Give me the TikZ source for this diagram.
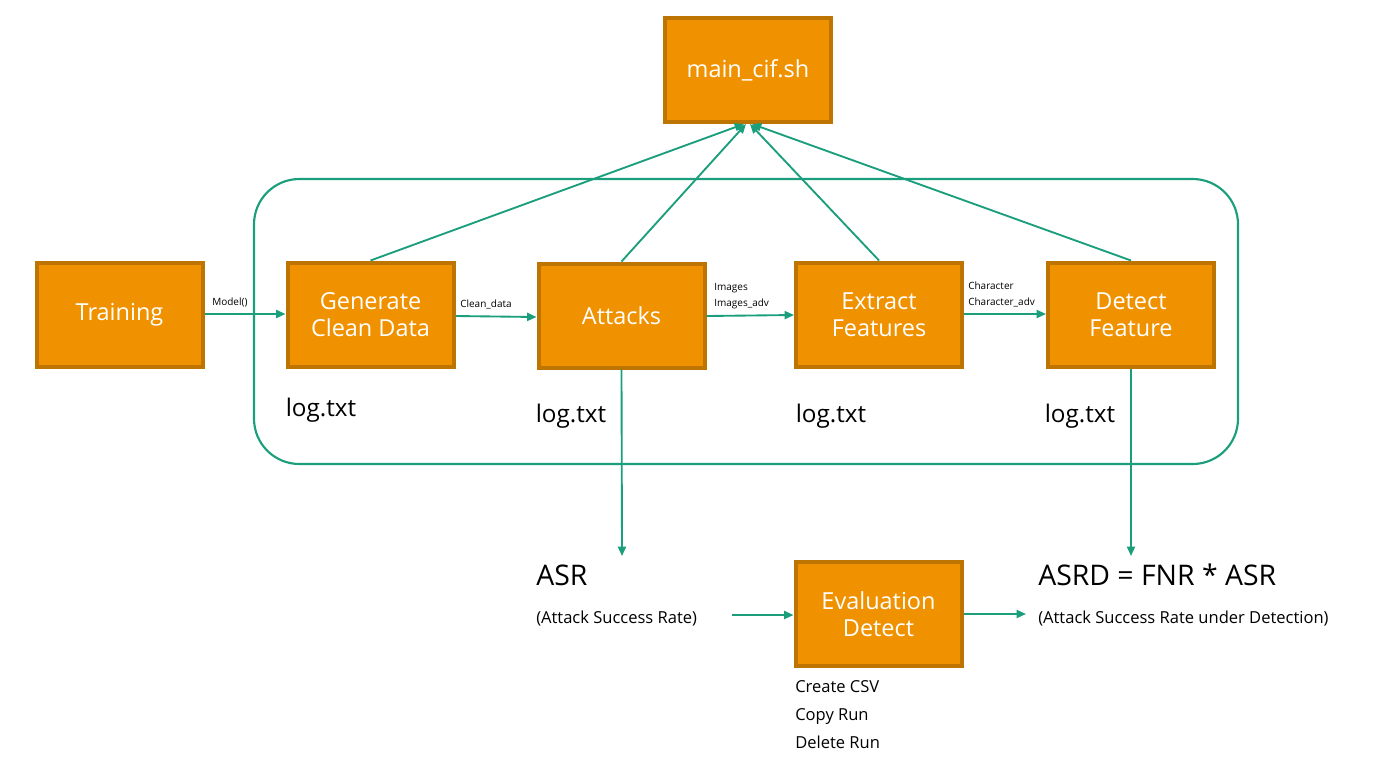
\documentclass[tikz,border=0pt]{standalone}
\usepackage{fontspec}
\setmainfont{Open Sans}
\usetikzlibrary{arrows.meta}
\definecolor{boxfill}{RGB}{240,146,0}
\definecolor{boxline}{RGB}{190,116,0}
\definecolor{teal}{RGB}{26,158,124}
\tikzset{
  procbox/.style={draw=boxline, fill=boxfill, line width=3pt, text=white, align=center,
    font=\fontsize{17.6}{21}\selectfont, inner sep=0pt, minimum width=124.5pt, minimum height=78pt},
  conn/.style={draw=teal, line width=1.4pt, -{Triangle[length=7pt,width=6pt]}},
  small/.style={font=\fontsize{7.5}{9}\selectfont, inner sep=0pt, anchor=west, text height=5.5pt, text depth=1.5pt},
  logtxt/.style={font=\fontsize{18.2}{21}\selectfont, inner sep=0pt, text height=13pt, text depth=4pt},
  note/.style={font=\fontsize{12.4}{15}\selectfont, inner sep=0pt, text height=9pt, text depth=3pt},
  big/.style={font=\fontsize{21.3}{25}\selectfont, inner sep=0pt, text height=15pt, text depth=4pt},
}
\begin{document}
\begin{tikzpicture}[x=0.75pt,y=-0.75pt]
\useasboundingbox (0,0) rectangle (1377,758);
% container
\draw[teal, line width=1.6pt, rounded corners=34pt] (254,179) rectangle (1238,464);
% boxes
\node[procbox] (main) at (748,70) {main\_cif.sh};
\node[procbox] (train) at (119.5,314.5) {Training};
\node[procbox] (gen) at (370.5,314.5) {\raisebox{-1pt}{Generate}\\Clean Data};
\node[procbox] (att) at (621.5,315.5) {Attacks};
\node[procbox] (ext) at (879,314.5) {\raisebox{-1pt}{Extract}\\Features};
\node[procbox] (det) at (1131,314.5) {\raisebox{-1pt}{Detect}\\Feature};
\node[procbox] (eval) at (878.5,614) {\raisebox{-1pt}{Evaluation}\\Detect};
% horizontal connectors
\draw[conn] (train.east |- 0,314) -- (gen.west |- 0,314);
\draw[conn] (gen.east |- 0,316) -- (att.west |- 0,317);
\draw[conn] (att.east |- 0,316) -- (ext.west |- 0,315);
\draw[conn] (ext.east |- 0,314) -- (det.west |- 0,314);
% labels
\node[small] (lm) at (212,303) {Model()};
\node[small] (lc) at (460,305) {Clean\_data};
\node[small] (li1) at (714,288) {Images};
\node[small] (li2) at (714,304) {Images\_adv};
\node[small] (lch1) at (968,287) {Character};
\node[small] (lch2) at (968,303) {Character\_adv};
% to main
\coordinate (m1) at (744,124);
\coordinate (m2) at (746,124);
\coordinate (m3) at (750,124);
\coordinate (m4) at (752,124);
\draw[conn] (gen.north) -- (m1);
\draw[conn] (att.north) -- (m2);
\draw[conn] (ext.north) -- (m3);
\draw[conn] (det.north) -- (m4);
% log texts
\node[logtxt] (lg1) at (321,410) {log.txt};
\node[logtxt] (lg2) at (571,416) {log.txt};
\node[logtxt] (lg3) at (831,416) {log.txt};
\node[logtxt] (lg4) at (1080,416) {log.txt};
% down arrows
\coordinate (asrtop) at (622,556);
\coordinate (asrdtop) at (1131,556);
\draw[conn] (att.south) -- (asrtop);
\draw[conn] (det.south) -- (asrdtop);
% bottom texts
\node[big, anchor=west] (asr) at (536,578) {ASR};
\node[note, anchor=west] (asrn) at (536,619) {(Attack Success Rate)};
\node[big, anchor=west] (asrd) at (1038,578) {ASRD = FNR * ASR};
\node[note, anchor=west] (asrdn) at (1038,619) {(Attack Success Rate under Detection)};
\coordinate (ein) at (732,615);
\coordinate (eout) at (1026,614);
\draw[conn] (ein) -- (eval.west |- 0,615);
\draw[conn] (eval.east |- 0,614) -- (eout);
\node[note, anchor=west] (c1) at (795,688) {Create CSV};
\node[note, anchor=west] (c2) at (795,716) {Copy Run};
\node[note, anchor=west] (c3) at (795,744) {Delete Run};
\end{tikzpicture}
\end{document}
